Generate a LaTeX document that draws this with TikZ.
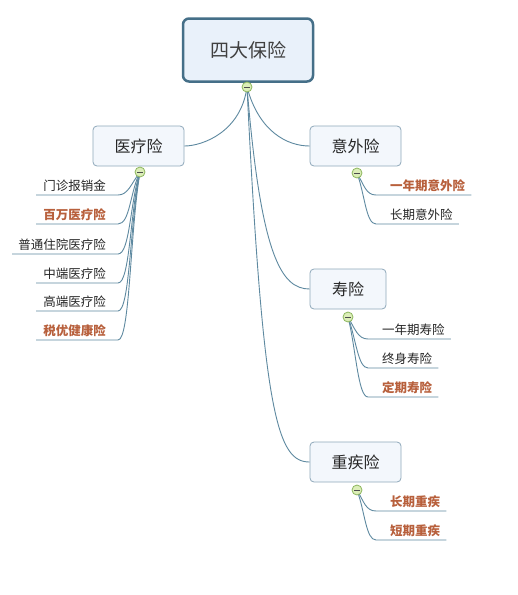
\documentclass[tikz,border=0pt]{standalone}
\usepackage{fontspec}
\newfontfamily\cjk{Noto Sans CJK SC}
\usetikzlibrary{positioning}
\definecolor{rootline}{HTML}{456F88}
\definecolor{rootfill}{HTML}{E9F1FA}
\definecolor{boxline}{HTML}{8FA8BA}
\definecolor{boxfill}{HTML}{F3F7FC}
\definecolor{branch}{HTML}{5E89A0}
\definecolor{hot}{HTML}{B8603C}
\definecolor{foldline}{HTML}{8DB65E}
\definecolor{foldfill}{HTML}{DCEEB8}
\tikzset{
  rootbox/.style={draw=rootline, fill=rootfill, line width=2.5pt, rounded corners=6pt,
    minimum width=130pt, minimum height=63pt, font=\cjk\fontsize{19}{21}\selectfont, text=black!75},
  topic/.style={draw=boxline, fill=boxfill, line width=0.8pt, rounded corners=4pt,
    minimum height=40pt, font=\cjk\fontsize{16}{18}\selectfont, text=black!85},
  leaf/.style={inner xsep=0pt, inner ysep=3pt, font=\cjk\fontsize{12.5}{14}\selectfont, text=black!85},
  hotleaf/.style={leaf, text=hot, font=\cjk\bfseries\fontsize{12.5}{14}\selectfont},
  twig/.style={draw=branch, line width=0.9pt},
  fold/.style={circle, draw=foldline, fill=foldfill, line width=0.8pt, minimum size=10pt, inner sep=0pt,
    path picture={\draw[black!70, line width=0.8pt] ([xshift=-2.6pt]path picture bounding box.center) -- ([xshift=2.6pt]path picture bounding box.center);}}
}
\begin{document}
\begin{tikzpicture}[x=1pt, y=-1pt]
\useasboundingbox[fill=white] (0,0) rectangle (518,595);

\node[rootbox] (root) at (248,50) {四大保险};
\node[topic, minimum width=91pt] (med) at (138.5,146) {医疗险};
\node[topic, minimum width=91pt] (acc) at (355.5,146) {意外险};
\node[topic, minimum width=76pt] (life) at (348,289) {寿险};
\node[topic, minimum width=91pt] (crit) at (355.5,462) {重疾险};

\coordinate (f0) at (247,87);
\coordinate (f1) at (140,172);
\coordinate (f2) at (357,173);
\coordinate (f3) at (348,317);
\coordinate (f4) at (357,490);

\node[leaf, anchor=south east] (m1) at (106,195) {门诊报销金};
\node[hotleaf, anchor=south east] (m2) at (106,224) {百万医疗险};
\node[leaf, anchor=south east] (m3) at (106,254) {普通住院医疗险};
\node[leaf, anchor=south east] (m4) at (106,283) {中端医疗险};
\node[leaf, anchor=south east] (m5) at (106,311) {高端医疗险};
\node[hotleaf, anchor=south east] (m6) at (106,340) {税优健康险};

\node[hotleaf, anchor=south west] (a1) at (390,195) {一年期意外险};
\node[leaf, anchor=south west] (a2) at (390,224) {长期意外险};

\node[leaf, anchor=south west] (l1) at (382,339) {一年期寿险};
\node[leaf, anchor=south west] (l2) at (382,368) {终身寿险};
\node[hotleaf, anchor=south west] (l3) at (382,397) {定期寿险};

\node[hotleaf, anchor=south west] (c1) at (390,511) {长期重疾};
\node[hotleaf, anchor=south west] (c2) at (390,540) {短期重疾};

\draw[twig] (f0) .. controls +(-6,45) and +(18,0) .. (med.east);
\draw[twig] (f0) .. controls +(12,45) and +(-22,0) .. (acc.west);
\draw[twig] (f0) .. controls +(14,170) and +(-28,0) .. (life.west);
\draw[twig] (f0) .. controls +(16,330) and +(-32,0) .. (crit.west);

\draw[twig] (f1) .. controls +(-9,12) and +(10,0) .. ([xshift=12pt]m1.south east) -- ([xshift=-7pt]m1.south west);
\draw[twig] (f1) .. controls +(-10,20) and +(12,0) .. ([xshift=12pt]m2.south east) -- ([xshift=-7pt]m2.south west);
\draw[twig] (f1) .. controls +(-10,30) and +(12,0) .. ([xshift=12pt]m3.south east) -- ([xshift=-6pt]m3.south west);
\draw[twig] (f1) .. controls +(-10,40) and +(12,0) .. ([xshift=12pt]m4.south east) -- ([xshift=-7pt]m4.south west);
\draw[twig] (f1) .. controls +(-10,50) and +(12,0) .. ([xshift=12pt]m5.south east) -- ([xshift=-7pt]m5.south west);
\draw[twig] (f1) .. controls +(-10,60) and +(12,0) .. ([xshift=12pt]m6.south east) -- ([xshift=-7pt]m6.south west);

\draw[twig] (f2) .. controls +(7,12) and +(-10,0) .. ([xshift=-14pt]a1.south west) -- ([xshift=6pt]a1.south east);
\draw[twig] (f2) .. controls +(8,22) and +(-10,0) .. ([xshift=-14pt]a2.south west) -- ([xshift=6pt]a2.south east);

\draw[twig] (f3) .. controls +(7,12) and +(-10,0) .. ([xshift=-14pt]l1.south west) -- ([xshift=6pt]l1.south east);
\draw[twig] (f3) .. controls +(8,22) and +(-10,0) .. ([xshift=-14pt]l2.south west) -- ([xshift=6pt]l2.south east);
\draw[twig] (f3) .. controls +(8,32) and +(-10,0) .. ([xshift=-14pt]l3.south west) -- ([xshift=6pt]l3.south east);

\draw[twig] (f4) .. controls +(7,12) and +(-10,0) .. ([xshift=-14pt]c1.south west) -- ([xshift=6pt]c1.south east);
\draw[twig] (f4) .. controls +(8,22) and +(-10,0) .. ([xshift=-14pt]c2.south west) -- ([xshift=6pt]c2.south east);

\node[fold] (c0) at (f0) {};
\node[fold] (c1f) at (f1) {};
\node[fold] (c2f) at (f2) {};
\node[fold] (c3f) at (f3) {};
\node[fold] (c4f) at (f4) {};
\end{tikzpicture}
\end{document}
